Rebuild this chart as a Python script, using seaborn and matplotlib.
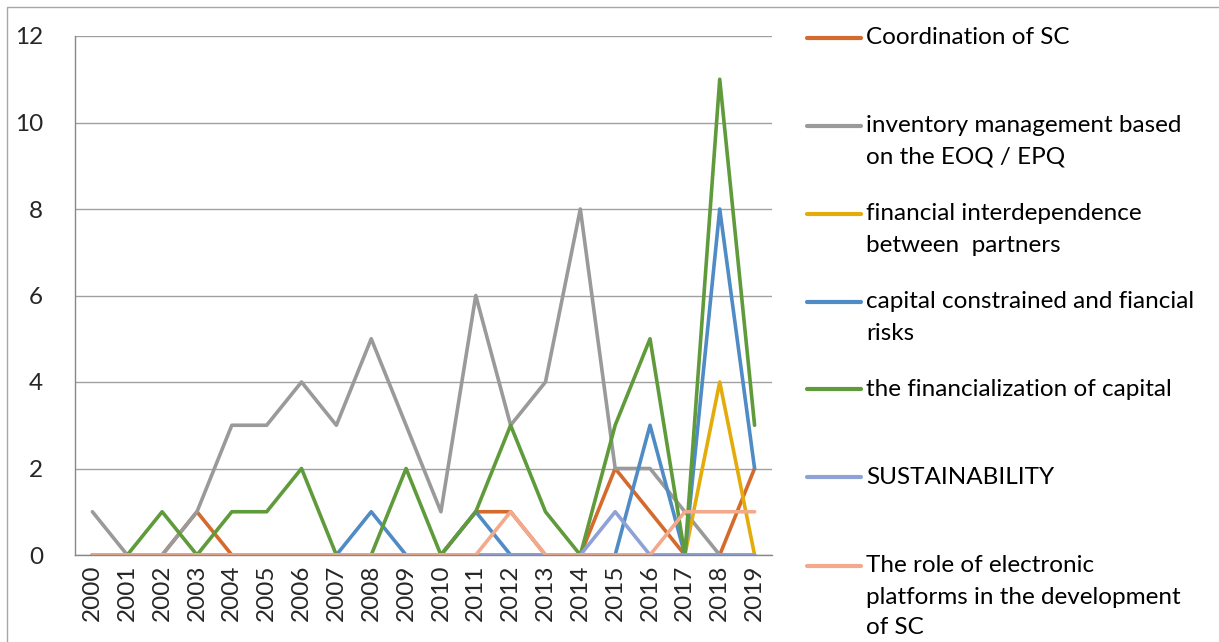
import matplotlib
matplotlib.use("Agg")
import matplotlib.pyplot as plt
from matplotlib.lines import Line2D
from matplotlib.patches import Rectangle
import seaborn as sns
import pandas as pd

years = [str(y) for y in range(2000, 2020)]
coordination = [0, 0, 0, 1, 0, 0, 0, 0, 0, 0, 0, 1, 1, 0, 0, 2, 1, 0, 0, 2]
inventory = [1, 0, 0, 1, 3, 3, 4, 3, 5, 3, 1, 6, 3, 4, 8, 2, 2, 1, 0, 0]
interdependence = [0, 0, 0, 0, 0, 0, 0, 0, 0, 0, 0, 0, 0, 0, 0, 0, 0, 0, 4, 0]
capital_risks = [0, 0, 0, 0, 0, 0, 0, 0, 1, 0, 0, 1, 0, 0, 0, 0, 3, 0, 8, 2]
financialization = [0, 0, 1, 0, 1, 1, 2, 0, 0, 2, 0, 1, 3, 1, 0, 3, 5, 0, 11, 3]
sustainability = [0, 0, 0, 0, 0, 0, 0, 0, 0, 0, 0, 0, 0, 0, 0, 1, 0, 0, 0, 0]
platforms = [0, 0, 0, 0, 0, 0, 0, 0, 0, 0, 0, 0, 1, 0, 0, 0, 0, 1, 1, 1]

series_names = [
    "Coordination of SC",
    "inventory management based\non the EOQ / EPQ",
    "financial interdependence\nbetween  partners",
    "capital constrained and fiancial\nrisks",
    "the financialization of capital",
    "SUSTAINABILITY",
    "The role of electronic\nplatforms in the development\nof SC",
]
series_values = [coordination, inventory, interdependence, capital_risks,
                 financialization, sustainability, platforms]
colors = ["#D46A2C", "#9A9A9A", "#E3AC0B", "#4F8BC4", "#5F9B3B", "#8EA2D8", "#F3A98C"]

rows = []
for name, vals in zip(series_names, series_values):
    for i, (y, v) in enumerate(zip(years, vals)):
        rows.append({"idx": i, "year": y, "value": v, "series": name})
df = pd.DataFrame(rows)

sns.set_theme(style="white")
plt.rcParams["font.family"] = ["Lato", "DejaVu Sans"]

W, H = 1219, 642
fig = plt.figure(figsize=(W / 100, H / 100), dpi=100)
ax = fig.add_axes([75 / W, 1 - 555 / H, (772 - 75) / W, (555 - 36) / H])

sns.lineplot(data=df, x="idx", y="value", hue="series", hue_order=series_names,
             palette=colors, linewidth=2.6, ax=ax, legend=False, estimator=None,
             sort=False)

FS = 17.5
ax.set_xlim(-0.5, 19.5)
ax.set_ylim(0, 12)
ax.set_yticks(range(0, 13, 2))
ax.set_yticklabels([str(v) for v in range(0, 13, 2)], fontsize=FS)
ax.set_xticks(range(20))
ax.set_xticklabels(years, rotation=90, fontsize=FS)
ax.set_xticks([i - 0.5 for i in range(21)], minor=True)
ax.tick_params(axis="x", which="major", length=0, pad=7)
ax.tick_params(axis="x", which="minor", length=7, color="#888888", width=1, direction="out")
ax.tick_params(axis="y", which="major", length=7, color="#888888", width=1, direction="out", pad=16)
ax.grid(axis="y", color="#A0A0A0", linewidth=1)
ax.set_axisbelow(True)
for s in ["top", "right"]:
    ax.spines[s].set_visible(False)
for s in ["left", "bottom"]:
    ax.spines[s].set_color("#888888")
    ax.spines[s].set_linewidth(1)
ax.set_xlabel("")
ax.set_ylabel("")

# legend
legend_y = [38, 126, 214, 302, 389, 477, 566]
line_step = 31
for name, col, yp in zip(series_names, colors, legend_y):
    yf = 1 - yp / H
    fig.add_artist(Line2D([807 / W, 861 / W], [yf, yf], color=col, linewidth=3,
                          solid_capstyle="round", transform=fig.transFigure))
    for k, part in enumerate(name.split("\n")):
        fig.text(866 / W, 1 - (yp + k * line_step) / H, part, fontsize=FS,
                 va="center", ha="left", color="#000000")

# chart border
fig.add_artist(Rectangle((7 / W, -0.1), 1.2, 1 - 7 / H + 0.1, transform=fig.transFigure,
                         fill=False, edgecolor="#A6A6A6", linewidth=1))

fig.savefig("out.png", dpi=100)
